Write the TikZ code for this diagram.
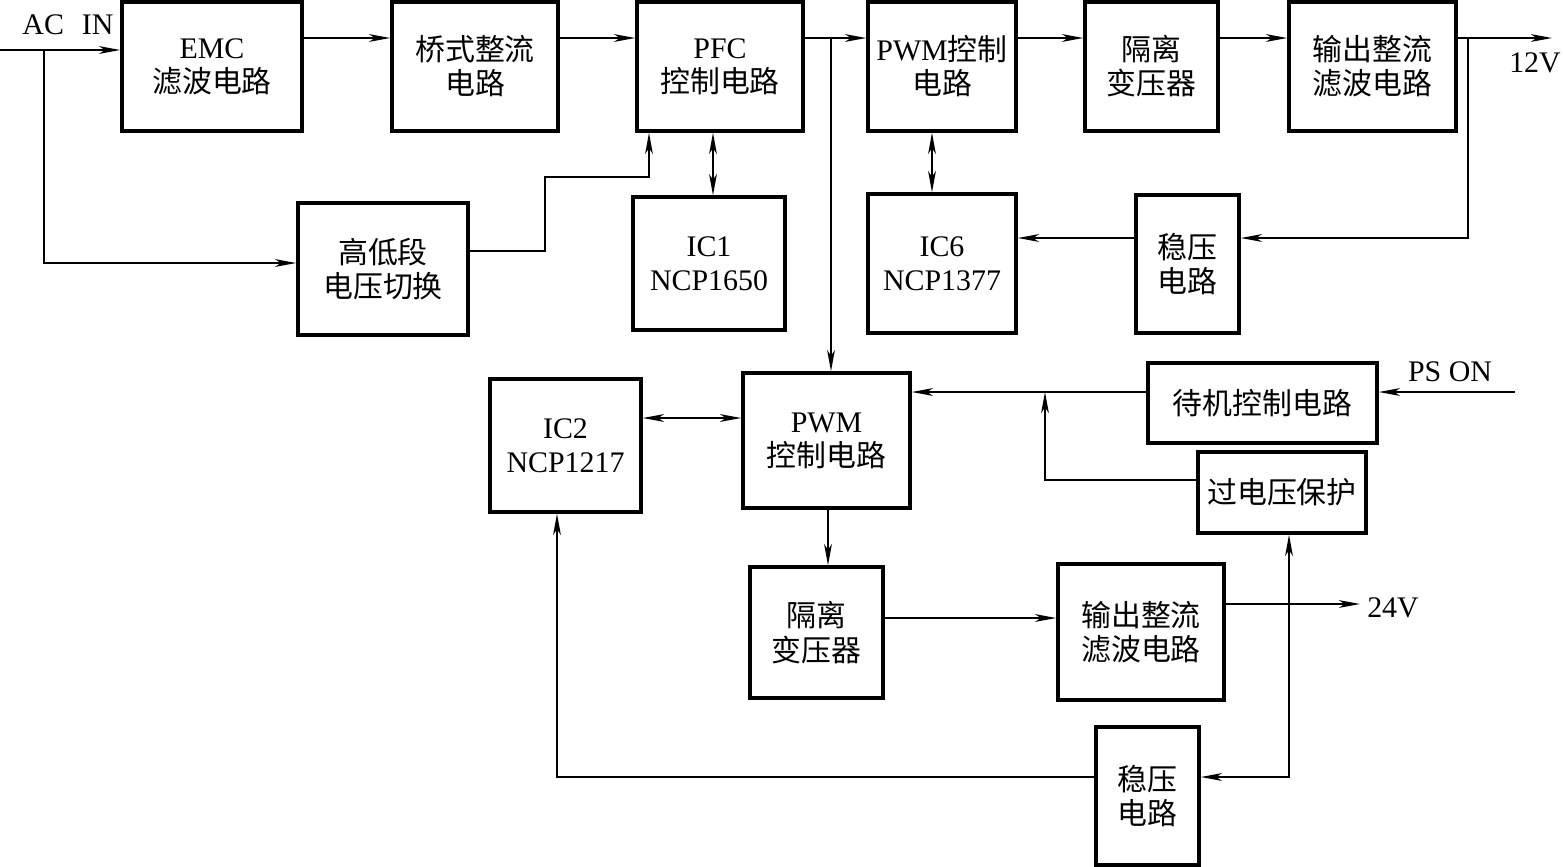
\documentclass[tikz,border=0pt]{standalone}
\usepackage{fontspec}
\setmainfont{Liberation Serif}
\newfontfamily\cjkf{Noto Sans CJK SC}
\newcommand\zhc[1]{{\cjkf #1}}
\usetikzlibrary{arrows.meta}
\begin{document}
\begin{tikzpicture}[x=0.01cm,y=-0.01cm,
  box/.style={draw,line width=1pt,inner sep=0pt,align=center,
    font=\fontsize{8.5pt}{9.7pt}\selectfont},
  lbl/.style={inner sep=0pt,font=\fontsize{8.5pt}{9.7pt}\selectfont},
  tip/.tip={Stealth[length=6pt,width=2.2pt,inset=1.6pt]},
  arr/.style={line width=0.45pt,-tip},
  darr/.style={line width=0.45pt,tip-tip},
  ln/.style={line width=0.45pt}]
\useasboundingbox (0,0) rectangle (1563,866);
% boxes
\node[box,minimum width=1.80cm,minimum height=1.29cm] (emc) at (212,66.5) {EMC\\\zhc{滤波电路}};
\node[box,minimum width=1.66cm,minimum height=1.29cm] (bridge) at (475,66.5) {\zhc{桥式整流}\\\zhc{电路}};
\node[box,minimum width=1.66cm,minimum height=1.29cm] (pfc) at (720,66.5) {PFC\\\zhc{控制电路}};
\node[box,minimum width=1.48cm,minimum height=1.29cm] (pwma) at (942,66.5) {PWM\zhc{控制}\\\zhc{电路}};
\node[box,minimum width=1.33cm,minimum height=1.29cm] (isoa) at (1151.5,66.5) {\zhc{隔离}\\\zhc{变压器}};
\node[box,minimum width=1.67cm,minimum height=1.29cm] (outa) at (1372.5,66.5) {\zhc{输出整流}\\\zhc{滤波电路}};
\node[box,minimum width=1.70cm,minimum height=1.32cm] (hl) at (383,269) {\zhc{高低段}\\\zhc{电压切换}};
\node[box,minimum width=1.52cm,minimum height=1.33cm] (ic1) at (709,263.5) {IC1\\NCP1650};
\node[box,minimum width=1.48cm,minimum height=1.39cm] (ic6) at (942,263.5) {IC6\\NCP1377};
\node[box,minimum width=1.03cm,minimum height=1.38cm] (rega) at (1187.5,264) {\zhc{稳压}\\\zhc{电路}};
\node[box,minimum width=1.51cm,minimum height=1.33cm] (ic2) at (565.5,445.5) {IC2\\NCP1217};
\node[box,minimum width=1.67cm,minimum height=1.35cm] (pwmb) at (826.5,440.5) {PWM\\\zhc{控制电路}};
\node[box,minimum width=2.29cm,minimum height=0.80cm] (stby) at (1262.5,403) {\zhc{待机控制电路}};
\node[box,minimum width=1.68cm,minimum height=0.81cm] (ovp) at (1282,492.5) {\zhc{过电压保护}};
\node[box,minimum width=1.33cm,minimum height=1.31cm] (isob) at (816.5,632.5) {\zhc{隔离}\\\zhc{变压器}};
\node[box,minimum width=1.66cm,minimum height=1.36cm] (outb) at (1141,632) {\zhc{输出整流}\\\zhc{滤波电路}};
\node[box,minimum width=1.03cm,minimum height=1.38cm] (regb) at (1147.5,796) {\zhc{稳压}\\\zhc{电路}};
% labels
\node[lbl] (acinl) at (68,25) {AC\hspace{0.6em}IN};
\node[lbl] (v12l) at (1535,63) {12V};
\node[lbl] (psonl) at (1450,372) {PS ON};
\node[lbl] (v24l) at (1393,608) {24V};
% helper coordinates
\coordinate (ytop) at (0,38);
\coordinate (acin) at (0,50);
\coordinate (j1) at (44,50);
\coordinate (j1b) at (44,263);
\coordinate (j2) at (831,38);
\coordinate (j3) at (1468,38);
\coordinate (v12) at (1552,38);
\coordinate (y238) at (0,238);
\coordinate (hlo) at (0,251);
\coordinate (s1) at (545,177);
\coordinate (s2) at (649,177);
\coordinate (v24) at (1360,604);
\coordinate (j4) at (1289,604);
\coordinate (j4b) at (1289,777);
\coordinate (y418) at (0,418);
\coordinate (y392) at (0,392);
\coordinate (pson) at (1515,392);
\coordinate (j5) at (1045,392);
\coordinate (y480) at (0,480);
\coordinate (j6) at (557,777);
% connectors
\draw[arr] (acin) -- (acin -| emc.west);
\draw[arr] (j1) -- (j1b) -- (j1b -| hl.west);
\draw[arr] (ytop -| emc.east) -- (ytop -| bridge.west);
\draw[arr] (ytop -| bridge.east) -- (ytop -| pfc.west);
\draw[arr] (ytop -| pfc.east) -- (ytop -| pwma.west);
\draw[arr] (j2) -- (j2 |- pwmb.north);
\draw[arr] (ytop -| pwma.east) -- (ytop -| isoa.west);
\draw[arr] (ytop -| isoa.east) -- (ytop -| outa.west);
\draw[arr] (ytop -| outa.east) -- (v12);
\draw[arr] (j3) |- (y238 -| rega.east);
\draw[arr] (y238 -| rega.west) -- (y238 -| ic6.east);
\draw[darr] (932,0 |- pwma.south) -- (932,0 |- ic6.north);
\draw[darr] (713,0 |- pfc.south) -- (713,0 |- ic1.north);
\draw[arr] (hlo -| hl.east) -| (s1) -- (s2) -- (s2 |- pfc.south);
\draw[arr] (828,0 |- pwmb.south) -- (828,0 |- isob.north);
\draw[darr] (y418 -| ic2.east) -- (y418 -| pwmb.west);
\draw[arr] (isob.east |- 0,618) -- (outb.west |- 0,618);
\draw[arr] (v24 -| outb.east) -- (v24);
\draw[arr] (j4) -- (j4 |- ovp.south);
\draw[arr] (j4) -- (j4b) -- (j4b -| regb.east);
\draw[arr] (j6 -| regb.west) -- (j6) -- (j6 |- ic2.south);
\draw[arr] (pson) -- (pson -| stby.east);
\draw[arr] (y392 -| stby.west) -- (y392 -| pwmb.east);
\draw[arr] (y480 -| ovp.west) -| (j5);
\end{tikzpicture}
\end{document}
